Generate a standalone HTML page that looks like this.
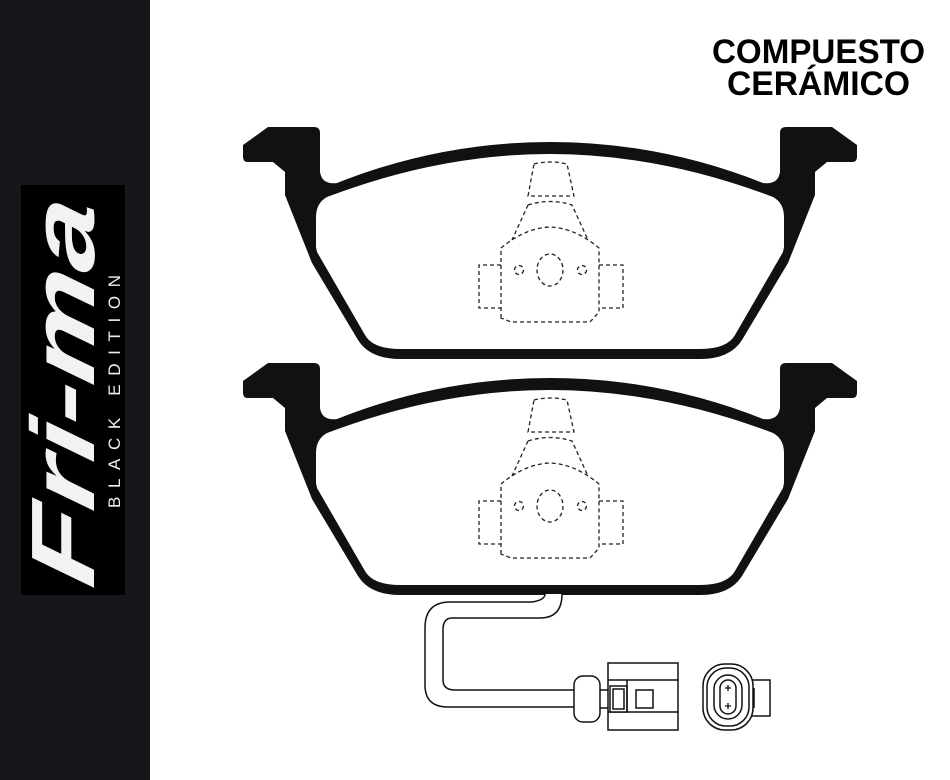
<!DOCTYPE html>
<html><head><meta charset="utf-8"><style>
html,body{margin:0;padding:0;background:#fff;}
svg{display:block;}
</style></head><body>
<svg width="950" height="780" viewBox="0 0 950 780" xmlns="http://www.w3.org/2000/svg">
<rect x="0" y="0" width="150" height="780" fill="#17161b"/>
<rect x="21" y="185" width="104" height="410" fill="#000"/>
<text transform="translate(94,590) rotate(-90) skewX(-12)" font-family="Liberation Sans, sans-serif" font-weight="bold" font-style="italic" font-size="90" fill="#f2f2f2" textLength="385" lengthAdjust="spacingAndGlyphs">Fri-ma</text>
<text transform="translate(120,508) rotate(-90)" font-family="Liberation Sans, sans-serif" font-size="17" fill="#eee" textLength="233" lengthAdjust="spacing">BLACK EDITION</text>

<text x="712" y="63" font-family="Liberation Sans, sans-serif" font-weight="bold" font-size="34" fill="#000" textLength="213" lengthAdjust="spacingAndGlyphs">COMPUESTO</text>
<text x="727" y="95" font-family="Liberation Sans, sans-serif" font-weight="bold" font-size="34" fill="#000" textLength="183" lengthAdjust="spacingAndGlyphs">CERÁMICO</text>

<defs>
<g id="pad">
<path fill="#111" d="M268,127 L314,127 Q320,127 320,133 L320,172 Q322,185 337,183 Q440,142 550,142 Q660,142 763,183 Q778,185 780,172 L780,133 Q780,127 786,127 L832,127 L857,145 L857,157 Q857,162 852,162 L827,162 L815,172 L815,195 L788,263 L742,340 Q730,359 700,359 L400,359 Q370,359 358,340 L312,263 L285,195 L285,172 L273,162 L248,162 Q243,162 243,157 L243,145 Z"/>
<path fill="#fff" d="M327,197 Q440,154 550,154 Q660,154 773,197 Q784,203 784,217 L784,247 L783,252 L735,335 Q727,349 700,349 L400,349 Q373,349 365,335 L317,252 L316,247 L316,217 Q316,203 327,197 Z"/>
<g fill="none" stroke="#222" stroke-width="1.3" stroke-dasharray="4,3">
<path d="M534,164 Q550,160 567,164 L574,196 L528,196 Z"/>
<path d="M528,205 Q550,198 572,205 L588,240 M528,205 L512,240"/>
<path d="M501,318 L501,248 Q525,228 550,227 Q575,228 599,248 L599,312 L590,322 L511,322 Z"/>
<path d="M501,265 L479,265 L479,308 L501,308 M599,265 L623,265 L623,308 L599,308"/>
<ellipse cx="550" cy="270" rx="13" ry="16"/>
<circle cx="519" cy="270" r="4.5"/>
<circle cx="582" cy="270" r="4.5"/>
</g>
</g>
</defs>
<use href="#pad"/>
<use href="#pad" transform="translate(0,236)"/>

<g fill="#fff" stroke="#111" stroke-width="1.5">
<path d="M562,594 Q562,618 540,618 L452,618 Q443,618 443,630 L443,680 Q443,690 455,690 L576,690 L576,707 L448,707 Q425,707 425,685 L425,628 Q425,602 450,602 L532,602 Q545,600 545,594"/>
<rect x="598" y="690" width="12" height="18"/>
<rect x="574" y="676" width="26" height="46" rx="9"/>
<rect x="608" y="663" width="70" height="67"/>
<line x1="608" y1="680" x2="678" y2="680"/>
<line x1="608" y1="712" x2="678" y2="712"/>
<rect x="610" y="686" width="17" height="26"/>
<rect x="613" y="689" width="11" height="20"/>
<line x1="627" y1="680" x2="627" y2="712"/>
<rect x="636" y="690" width="17" height="18"/>
<rect x="748" y="680" width="22" height="36"/>
<line x1="754" y1="688" x2="754" y2="708"/>
<rect x="703" y="664" width="50" height="66" rx="22"/>
<rect x="707" y="668" width="42" height="58" rx="19"/>
<rect x="714" y="675" width="28" height="44" rx="14"/>
<rect x="720" y="680" width="16" height="34" rx="8"/>
</g>
<g fill="none" stroke="#111" stroke-width="1.3">
<path d="M725,688 h6 M728,685 v6 M725,706 h6 M728,703 v6"/>
</g>
</svg>
</body></html>
